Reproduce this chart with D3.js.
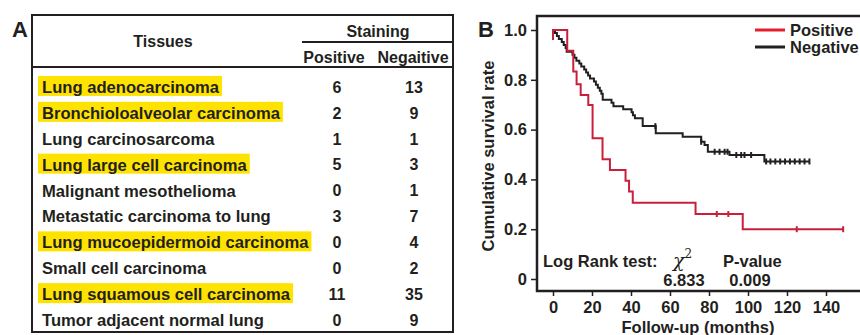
<!DOCTYPE html>
<html>
<head>
<meta charset="utf-8">
<script src="https://cdn.jsdelivr.net/npm/d3@7"></script>
<style>
  body { margin: 0; background: #fff; }
  svg { display: block; font-family: "Liberation Sans", Arial, sans-serif; font-weight: bold; }
</style>
</head>
<body>
<script>
// ---- data: panel A table ----
const tissues = [
  "Lung adenocarcinoma",
  "Bronchioloalveolar carcinoma",
  "Lung carcinosarcoma",
  "Lung large cell carcinoma",
  "Malignant mesothelioma",
  "Metastatic carcinoma to lung",
  "Lung mucoepidermoid carcinoma",
  "Small cell carcinoma",
  "Lung squamous cell carcinoma",
  "Tumor adjacent normal lung"
];
const positiveCounts = [6, 2, 1, 5, 0, 3, 0, 0, 11, 0];
const negativeCounts = [13, 9, 1, 3, 1, 7, 4, 2, 35, 9];
const highlighted = [true, true, false, true, false, false, true, false, true, false];

// ---- data: panel B Kaplan-Meier (months, survival after event) ----
const positiveSteps = [
  [0, 0.96], [0, 1.0], [7.3, 0.917], [10.4, 0.833], [12.1, 0.782], [14.2, 0.739],
  [18.1, 0.699], [20.3, 0.565], [25.4, 0.481], [29.2, 0.438], [37.2, 0.395],
  [39.0, 0.351], [40.9, 0.306], [73.1, 0.261], [97.3, 0.2], [149, 0.2]
];
const positiveCensored = [84, 89.9, 125, 148.8];

const negativeSteps = [
  [0, 1.0], [1, 0.988], [2, 0.976], [3, 0.964], [4.5, 0.952], [5.5, 0.94], [6.5, 0.928],
  [7, 0.913], [10, 0.901], [11, 0.889], [12, 0.877], [13.5, 0.865], [14.5, 0.853],
  [16, 0.841], [17, 0.829], [18, 0.817], [19, 0.805], [21, 0.793], [22, 0.78],
  [23, 0.768], [24, 0.756], [24.8, 0.744], [25.5, 0.72], [30, 0.708], [31, 0.694],
  [36, 0.682], [40.3, 0.67], [41, 0.658], [42, 0.646], [46, 0.614], [52.7, 0.585],
  [66.5, 0.571], [76, 0.551], [77.7, 0.538], [79.4, 0.511], [90.5, 0.498],
  [108.4, 0.472], [131.5, 0.472]
];
const negativeCensored = [52.5, 76, 82.9, 85.4, 88, 89.5, 94, 96.5, 98.2, 101.6,
  109.3, 111.5, 114, 116.5, 119, 121.5, 124, 126.5, 129, 131.5];

const xTicks = [0, 20, 40, 60, 80, 100, 120, 140];
const yTicks = [0, 0.2, 0.4, 0.6, 0.8, 1.0];

const width = 860, height = 335;
const ink = "#231f20";

const svg = d3.select("body").append("svg")
  .attr("width", width)
  .attr("height", height)
  .attr("viewBox", [0, 0, width, height]);

// ================= Panel A =================
{
  const g = svg.append("g").attr("fill", ink);
  const box = { left: 32, right: 453, top: 15, bottom: 332 };

  g.append("text").attr("x", 12).attr("y", 37)
    .style("font-size", "22px").text("A");

  g.append("rect")
    .attr("x", box.left).attr("y", box.top)
    .attr("width", box.right - box.left).attr("height", box.bottom - box.top)
    .attr("fill", "none").attr("stroke", ink).attr("stroke-width", 2);

  g.append("line")
    .attr("x1", box.left).attr("x2", box.right).attr("y1", 67).attr("y2", 67)
    .attr("stroke", ink).attr("stroke-width", 2);
  g.append("line")
    .attr("x1", 302).attr("x2", box.right).attr("y1", 42).attr("y2", 42)
    .attr("stroke", ink).attr("stroke-width", 2);

  const header = [
    { t: "Tissues", x: 163, y: 41 },
    { t: "Staining", x: 378, y: 31 },
    { t: "Positive", x: 334, y: 57 },
    { t: "Negaitive", x: 413, y: 57 }
  ];
  g.selectAll("text.head").data(header).join("text")
    .attr("class", "head")
    .attr("x", d => d.x).attr("y", d => d.y).attr("dy", "0.36em")
    .attr("text-anchor", "middle")
    .style("font-size", "16px")
    .text(d => d.t);

  const row = d3.scaleBand().domain(tissues).range([74, 333]);
  const col = d3.scaleOrdinal().domain(["pos", "neg"]).range([337, 414]);

  const rows = g.selectAll("g.row").data(tissues).join("g")
    .attr("class", "row")
    .attr("transform", d => `translate(0,${row(d) + row.bandwidth() / 2})`);

  rows.each(function (d, i) {
    const r = d3.select(this);
    const label = r.append("text")
      .attr("x", 42).attr("dy", "0.36em")
      .style("font-size", "16.6px")
      .text(d);
    if (highlighted[i]) {
      const w = label.node().getComputedTextLength();
      r.insert("rect", "text")
        .attr("x", 38).attr("y", -11)
        .attr("width", w + 7).attr("height", 20)
        .attr("fill", "#ffe300");
    }
    r.append("text").attr("x", col("pos")).attr("dy", "0.36em")
      .attr("text-anchor", "middle").style("font-size", "16px")
      .text(positiveCounts[i]);
    r.append("text").attr("x", col("neg")).attr("dy", "0.36em")
      .attr("text-anchor", "middle").style("font-size", "16px")
      .text(negativeCounts[i]);
  });
}

// ================= Panel B =================
{
  const frame = { left: 537, top: 16, bottom: 291 };
  const x = d3.scaleLinear().domain([0, 140]).range([553, 826]);
  const y = d3.scaleLinear().domain([0, 1]).range([279, 30]);

  svg.append("text").attr("x", 478).attr("y", 37)
    .attr("fill", ink).style("font-size", "22px").text("B");

  // frame (right edge runs off the picture)
  svg.append("path")
    .attr("d", `M${width + 10},${frame.top}H${frame.left}V${frame.bottom}H${width + 10}`)
    .attr("fill", "none").attr("stroke", ink).attr("stroke-width", 2.5);

  const yAxis = svg.append("g")
    .attr("transform", `translate(${frame.left},0)`)
    .call(d3.axisLeft(y).tickValues(yTicks).tickSize(6).tickPadding(4)
      .tickFormat(d => d === 0 ? "0" : d3.format(".1f")(d)));
  const xAxis = svg.append("g")
    .attr("transform", `translate(0,${frame.bottom})`)
    .call(d3.axisBottom(x).tickValues(xTicks).tickSize(5).tickPadding(5));
  [yAxis, xAxis].forEach(a => {
    a.select(".domain").remove();
    a.selectAll("line").attr("stroke", ink).attr("stroke-width", 1.5);
    a.selectAll("text").attr("fill", ink)
      .style("font-size", "16.5px").style("font-weight", "bold")
      .style("font-family", "'Liberation Sans', Arial, sans-serif");
  });

  svg.append("text")
    .attr("transform", "translate(494,156) rotate(-90)")
    .attr("text-anchor", "middle").attr("fill", ink)
    .style("font-size", "16.5px").text("Cumulative survival rate");
  svg.append("text")
    .attr("x", 698).attr("y", 333)
    .attr("text-anchor", "middle").attr("fill", ink)
    .style("font-size", "16.5px").text("Follow-up (months)");

  const line = d3.line()
    .x(d => x(d[0])).y(d => y(d[1]))
    .curve(d3.curveStepAfter);

  const valueAt = (steps, t) => {
    const i = d3.bisector(d => d[0]).right(steps, t) - 1;
    return steps[Math.max(0, i)][1];
  };

  const groups = [
    { steps: negativeSteps, cens: negativeCensored, color: ink },
    { steps: positiveSteps, cens: positiveCensored, color: "#c8203c" }
  ];
  groups.forEach(gr => {
    svg.append("path")
      .datum(gr.steps)
      .attr("fill", "none")
      .attr("stroke", gr.color)
      .attr("stroke-width", 2)
      .attr("d", line);
    svg.append("g").selectAll("line").data(gr.cens).join("line")
      .attr("x1", d => x(d)).attr("x2", d => x(d))
      .attr("y1", d => y(valueAt(gr.steps, d)) - 3)
      .attr("y2", d => y(valueAt(gr.steps, d)) + 3)
      .attr("stroke", gr.color).attr("stroke-width", 2);
  });

  // legend
  const legend = [
    { label: "Positive", color: "#e31e2d", y: 30 },
    { label: "Negative", color: ink, y: 47 }
  ];
  const lg = svg.append("g").selectAll("g").data(legend).join("g")
    .attr("transform", d => `translate(755,${d.y})`);
  lg.append("line").attr("x1", 0).attr("x2", 30)
    .attr("stroke", d => d.color).attr("stroke-width", 3);
  lg.append("text").attr("x", 35).attr("dy", "0.36em").attr("fill", ink)
    .style("font-size", "16.5px").text(d => d.label);

  // log rank test annotation
  const stats = svg.append("g").attr("fill", ink).style("font-size", "16.5px");
  stats.append("text").attr("x", 543).attr("y", 267).text("Log Rank test:");
  const chi = stats.append("text").attr("x", 673).attr("y", 267);
  chi.append("tspan").style("font-family", "'DejaVu Serif', 'Liberation Serif', serif")
    .style("font-style", "italic").style("font-weight", "normal")
    .style("font-size", "19px").text("χ");
  chi.append("tspan").attr("dy", -9).style("font-weight", "normal")
    .style("font-family", "'DejaVu Serif', 'Liberation Serif', serif")
    .style("font-size", "12px").text("2");
  stats.append("text").attr("x", 723).attr("y", 267).text("P-value");
  stats.append("text").attr("x", 684).attr("y", 286).attr("text-anchor", "middle").text("6.833");
  stats.append("text").attr("x", 750).attr("y", 286).attr("text-anchor", "middle").text("0.009");
}
</script>
</body>
</html>
